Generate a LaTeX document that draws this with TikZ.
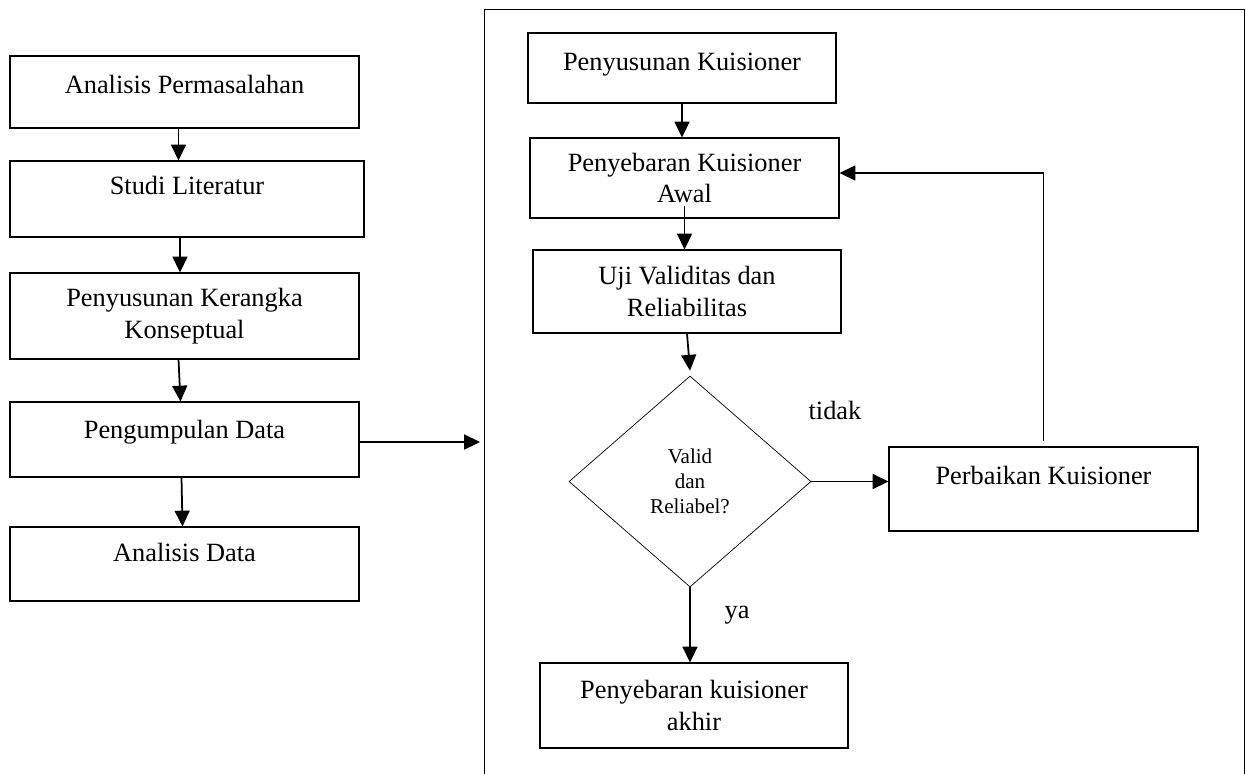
\documentclass[tikz,border=0pt]{standalone}
\usepackage{fontspec}
\setmainfont{Liberation Serif}
\usetikzlibrary{arrows.meta,shapes.geometric}

\begin{document}
\begin{tikzpicture}[
  box/.style={draw, rectangle, align=center, line width=0.6pt, inner sep=2pt,
    font=\fontsize{15}{18}\selectfont},
  single/.style={text depth=15pt},
  flowarrow/.style={-{Triangle[length=9pt,width=8.5pt]}, line width=1pt},
  answer/.style={font=\fontsize{15}{18}\selectfont}
]
\useasboundingbox (0,0) rectangle (24.92,-15.46);

% left column
\node[box, single, text depth=9pt, minimum width=6.98cm, minimum height=1.44cm](AP) at (3.69,-1.84){Analisis Permasalahan};
\node[box, single, minimum width=7.08cm, minimum height=1.52cm](SL) at (3.74,-3.98){Studi Literatur};
\node[box, minimum width=6.98cm, minimum height=1.72cm](PKK) at (3.69,-6.32){Penyusunan Kerangka\\Konseptual};
\node[box, single, text depth=12pt, minimum width=6.98cm, minimum height=1.50cm](PD) at (3.69,-8.79){Pengumpulan Data};
\node[box, single, text depth=13pt, minimum width=6.98cm, minimum height=1.48cm](AD) at (3.69,-11.28){Analisis Data};
\draw[flowarrow] ([xshift=-0.12cm]AP.south) -- ([xshift=-0.12cm]AP.south |- SL.north);
\draw[flowarrow] ([xshift=-0.14cm]SL.south) -- ([xshift=-0.14cm]SL.south |- PKK.north);
\draw[flowarrow] ([xshift=-0.12cm]PKK.south) -- ([xshift=-0.08cm]PD.north);
\draw[flowarrow] ([xshift=-0.06cm]PD.south) -- ([xshift=-0.04cm]AD.north);

% frame of the questionnaire stage
\draw[line width=0.5pt] (9.68,-15.50) -- (9.68,-0.18) -- (24.88,-0.18) -- (24.88,-15.50);
\coordinate (frameW) at (9.60,-8.84);
\draw[flowarrow] (PD.east |- frameW) -- (frameW);

% right column
\node[box, single, text depth=7pt, minimum width=6.16cm, minimum height=1.40cm](PK) at (13.64,-1.36){Penyusunan Kuisioner};
\node[box, minimum width=6.18cm, minimum height=1.60cm](PKA) at (13.69,-3.56){Penyebaran Kuisioner\\Awal};
\node[box, minimum width=6.16cm, minimum height=1.66cm](UV) at (13.74,-5.83){Uji Validitas dan\\Reliabilitas};
\node[draw, diamond, line width=0.4pt, align=center, inner sep=0pt,
  minimum width=4.84cm, minimum height=4.22cm,
  font=\fontsize{12}{14.2}\selectfont](VR) at (13.80,-9.63){Valid\\dan\\Reliabel?};
\node[box, single, minimum width=6.18cm, minimum height=1.68cm](PB) at (20.87,-9.78){Perbaikan Kuisioner};
\node[box, minimum width=6.16cm, minimum height=1.70cm](PA) at (13.88,-14.11){Penyebaran kuisioner\\akhir};

\draw[flowarrow] (PK.south) -- (PK.south |- PKA.north);
\draw[flowarrow] ([yshift=0.26cm]PKA.south) -- (PKA.south |- UV.north);
\draw[flowarrow] (UV.south) -- ([yshift=0.1cm]VR.north);
\draw[flowarrow] (VR.east) -- (PB.west |- VR.east);
\draw[flowarrow] ([yshift=0.1cm]PB.north) |- ([yshift=0.1cm]PKA.east);
\draw[flowarrow] (VR.south) -- (VR.south |- PA.north);

\node[answer](tidak) at (16.70,-8.20){tidak};
\node[answer](ya) at (14.74,-12.30){ya};
\end{tikzpicture}
\end{document}
